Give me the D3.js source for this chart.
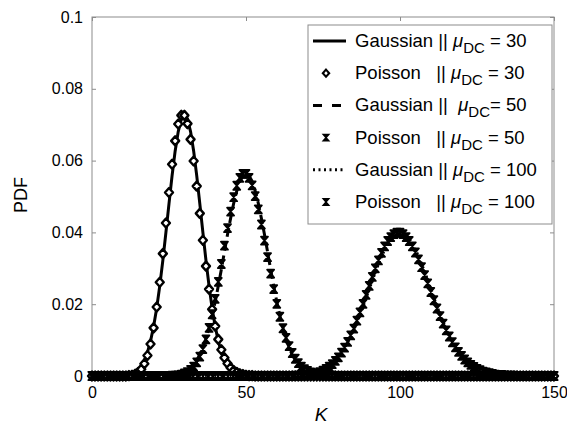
<!DOCTYPE html>
<meta charset="utf-8">
<style>
  body { margin: 0; background: #fff; }
  text { font-family: "Liberation Sans", Arial, sans-serif; }
</style>

<!-- Load d3.js -->
<script src="https://d3js.org/d3.v7.min.js"></script>

<div id="my_dataviz"></div>

<script>

// ---- data (one value per integer K, 0..150) ----
var kValues = d3.range(0, 151);

var xTicks = [0, 50, 100, 150];
var yTicks = [0, 0.02, 0.04, 0.06, 0.08, 0.1];
var yTickLabels = ["0", "0.02", "0.04", "0.06", "0.08", "0.1"];

var gauss30 = [
  0,0,0,0,0,0,0,0,0,0,
  0.0001,0.0002,0.0003,0.0006,0.0010,0.0017,0.0028,0.0044,0.0066,0.0097,
  0.0138,0.0189,0.0251,0.0322,0.0400,0.0480,0.0558,0.0627,0.0681,0.0716,
  0.0728,0.0716,0.0681,0.0627,0.0558,0.0480,0.0400,0.0322,0.0251,0.0189,
  0.0138,0.0097,0.0066,0.0044,0.0028,0.0017,0.0010,0.0006,0.0003,0.0002,
  0.0001,0,0,0,0,0,0,0,0,0,
  0,0,0,0,0,0,0,0,0,0,
  0,0,0,0,0,0,0,0,0,0,
  0,0,0,0,0,0,0,0,0,0,
  0,0,0,0,0,0,0,0,0,0,
  0,0,0,0,0,0,0,0,0,0,
  0,0,0,0,0,0,0,0,0,0,
  0,0,0,0,0,0,0,0,0,0,
  0,0,0,0,0,0,0,0,0,0,
  0,0,0,0,0,0,0,0,0,0,
  0
];

var poisson30 = [
  0,0,0,0,0,0,0,0,0,0,
  0,0,0.0001,0.0002,0.0005,0.0010,0.0019,0.0034,0.0057,0.0089,
  0.0134,0.0192,0.0261,0.0341,0.0426,0.0511,0.0590,0.0655,0.0702,0.0726,
  0.0726,0.0703,0.0659,0.0599,0.0529,0.0453,0.0378,0.0306,0.0242,0.0186,
  0.0139,0.0102,0.0073,0.0051,0.0035,0.0023,0.0015,0.0010,0.0006,0.0004,
  0.0002,0.0001,0.0001,0,0,0,0,0,0,0,
  0,0,0,0,0,0,0,0,0,0,
  0,0,0,0,0,0,0,0,0,0,
  0,0,0,0,0,0,0,0,0,0,
  0,0,0,0,0,0,0,0,0,0,
  0,0,0,0,0,0,0,0,0,0,
  0,0,0,0,0,0,0,0,0,0,
  0,0,0,0,0,0,0,0,0,0,
  0,0,0,0,0,0,0,0,0,0,
  0,0,0,0,0,0,0,0,0,0,
  0
];

var gauss50 = [
  0,0,0,0,0,0,0,0,0,0,
  0,0,0,0,0,0,0,0,0,0,
  0,0,0,0,0.0001,0.0001,0.0002,0.0003,0.0004,0.0007,
  0.0010,0.0015,0.0022,0.0031,0.0044,0.0059,0.0079,0.0104,0.0134,0.0168,
  0.0207,0.0251,0.0297,0.0346,0.0394,0.0439,0.0481,0.0515,0.0542,0.0558,
  0.0564,0.0558,0.0542,0.0515,0.0481,0.0439,0.0394,0.0346,0.0297,0.0251,
  0.0207,0.0168,0.0134,0.0104,0.0079,0.0059,0.0044,0.0031,0.0022,0.0015,
  0.0010,0.0007,0.0004,0.0003,0.0002,0.0001,0.0001,0,0,0,
  0,0,0,0,0,0,0,0,0,0,
  0,0,0,0,0,0,0,0,0,0,
  0,0,0,0,0,0,0,0,0,0,
  0,0,0,0,0,0,0,0,0,0,
  0,0,0,0,0,0,0,0,0,0,
  0,0,0,0,0,0,0,0,0,0,
  0,0,0,0,0,0,0,0,0,0,
  0
];

var poisson50 = [
  0,0,0,0,0,0,0,0,0,0,
  0,0,0,0,0,0,0,0,0,0,
  0,0,0,0,0,0,0.0001,0.0001,0.0002,0.0004,
  0.0007,0.0011,0.0017,0.0026,0.0038,0.0054,0.0075,0.0102,0.0134,0.0172,
  0.0215,0.0262,0.0312,0.0363,0.0412,0.0458,0.0498,0.0530,0.0552,0.0563,
  0.0563,0.0552,0.0531,0.0501,0.0464,0.0422,0.0377,0.0331,0.0285,0.0242,
  0.0201,0.0165,0.0133,0.0106,0.0083,0.0064,0.0048,0.0036,0.0026,0.0019,
  0.0014,0.0010,0.0007,0.0005,0.0003,0.0002,0.0001,0.0001,0.0001,0,
  0,0,0,0,0,0,0,0,0,0,
  0,0,0,0,0,0,0,0,0,0,
  0,0,0,0,0,0,0,0,0,0,
  0,0,0,0,0,0,0,0,0,0,
  0,0,0,0,0,0,0,0,0,0,
  0,0,0,0,0,0,0,0,0,0,
  0,0,0,0,0,0,0,0,0,0,
  0
];

var gauss100 = [
  0,0,0,0,0,0,0,0,0,0,
  0,0,0,0,0,0,0,0,0,0,
  0,0,0,0,0,0,0,0,0,0,
  0,0,0,0,0,0,0,0,0,0,
  0,0,0,0,0,0,0,0,0,0,
  0,0,0,0,0,0,0,0,0,0,
  0,0,0,0,0.0001,0.0001,0.0001,0.0002,0.0002,0.0003,
  0.0004,0.0006,0.0008,0.0010,0.0014,0.0018,0.0022,0.0028,0.0035,0.0044,
  0.0054,0.0066,0.0079,0.0094,0.0111,0.0130,0.0150,0.0171,0.0194,0.0218,
  0.0242,0.0266,0.0290,0.0312,0.0333,0.0352,0.0368,0.0381,0.0391,0.0397,
  0.0399,0.0397,0.0391,0.0381,0.0368,0.0352,0.0333,0.0312,0.0290,0.0266,
  0.0242,0.0218,0.0194,0.0171,0.0150,0.0130,0.0111,0.0094,0.0079,0.0066,
  0.0054,0.0044,0.0035,0.0028,0.0022,0.0018,0.0014,0.0010,0.0008,0.0006,
  0.0004,0.0003,0.0002,0.0002,0.0001,0.0001,0.0001,0,0,0,
  0,0,0,0,0,0,0,0,0,0,
  0
];

var poisson100 = [
  0,0,0,0,0,0,0,0,0,0,
  0,0,0,0,0,0,0,0,0,0,
  0,0,0,0,0,0,0,0,0,0,
  0,0,0,0,0,0,0,0,0,0,
  0,0,0,0,0,0,0,0,0,0,
  0,0,0,0,0,0,0,0,0,0,
  0,0,0,0,0,0,0.0001,0.0001,0.0002,0.0002,
  0.0003,0.0004,0.0006,0.0008,0.0011,0.0015,0.0020,0.0026,0.0033,0.0042,
  0.0052,0.0065,0.0079,0.0095,0.0113,0.0132,0.0154,0.0177,0.0201,0.0226,
  0.0251,0.0276,0.0300,0.0322,0.0343,0.0361,0.0376,0.0387,0.0395,0.0399,
  0.0399,0.0395,0.0387,0.0376,0.0361,0.0344,0.0325,0.0303,0.0281,0.0258,
  0.0234,0.0211,0.0188,0.0167,0.0146,0.0127,0.0110,0.0094,0.0080,0.0067,
  0.0056,0.0046,0.0038,0.0031,0.0025,0.0020,0.0016,0.0012,0.0010,0.0008,
  0.0006,0.0004,0.0003,0.0003,0.0002,0.0001,0.0001,0.0001,0,0,
  0,0,0,0,0,0,0,0,0,0,
  0
];

// legend texts
var legendNames = ["Gaussian || ", "Poisson   || ", "Gaussian ||  ", "Poisson   || ", "Gaussian || ", "Poisson   || "];
var legendValues = [" = 30", " = 30", "= 50", " = 50", " = 100", " = 100"];

// ---- layout ----
var margin = {top: 17, right: 13, bottom: 49, left: 92},
    width = 567 - margin.left - margin.right,
    height = 425 - margin.top - margin.bottom;

var svg = d3.select("#my_dataviz")
  .append("svg")
    .attr("width", width + margin.left + margin.right)
    .attr("height", height + margin.top + margin.bottom)
  .append("g")
    .attr("transform", "translate(" + margin.left + "," + margin.top + ")");

var x = d3.scaleLinear().domain([0, 150]).range([0, width]);
var y = d3.scaleLinear().domain([0, 0.1]).range([height, 0]);

var frameColor = "#8c8c8c";

// box
svg.append("rect")
  .attr("x", 0).attr("y", 0)
  .attr("width", width).attr("height", height)
  .attr("fill", "none")
  .attr("stroke", frameColor)
  .attr("stroke-width", 1);

function styleAxis(g) {
  g.select(".domain").remove();
  g.selectAll(".tick line").attr("stroke", frameColor);
  g.selectAll(".tick text").attr("fill", "#000");
}

// X axis
svg.append("g")
  .attr("transform", "translate(0," + height + ")")
  .call(d3.axisBottom(x).tickValues(xTicks).tickSize(-4).tickPadding(11))
  .call(styleAxis)
  .style("font", "16px 'Liberation Sans'");

svg.append("g")
  .call(d3.axisTop(x).tickValues(xTicks).tickSize(-4).tickFormat(""))
  .call(styleAxis);

// Y axis
svg.append("g")
  .call(d3.axisLeft(y).tickValues(yTicks).tickSize(-4).tickPadding(9)
    .tickFormat(function(d, i) { return yTickLabels[i]; }))
  .call(styleAxis)
  .style("font", "16px 'Liberation Sans'");

svg.append("g")
  .attr("transform", "translate(" + width + ",0)")
  .call(d3.axisRight(y).tickValues(yTicks).tickSize(-4).tickFormat(""))
  .call(styleAxis);

// axis labels
svg.append("text")
  .attr("transform", "rotate(-90)")
  .attr("x", -178)
  .attr("y", -65)
  .style("text-anchor", "middle")
  .style("font-size", "18px")
  .text("PDF");

svg.append("text")
  .attr("x", 229)
  .attr("y", 404)
  .style("text-anchor", "middle")
  .style("font-size", "19px")
  .style("font-style", "italic")
  .text("K");

// markers
var diamondPath = "M0,-4.5L4,0L0,4.5L-4,0Z";
var bowtiePath = "M-3.5,-4H3.5L-3.5,4H3.5Z";

function addLine(values, dash) {
  svg.append("path")
    .datum(kValues)
    .attr("fill", "none")
    .attr("stroke", "#000")
    .attr("stroke-width", 3)
    .style("stroke-dasharray", dash)
    .attr("d", d3.line()
      .x(function(k) { return x(k); })
      .y(function(k, i) { return y(values[i]); }));
}

function addMarkers(values, shape) {
  svg.append("g")
    .selectAll("path")
    .data(kValues)
    .enter()
    .append("path")
      .attr("d", shape)
      .attr("fill", shape === diamondPath ? "#fff" : "#000")
      .attr("stroke", "#000")
      .attr("stroke-width", shape === diamondPath ? 2.4 : 1.8)
      .attr("stroke-linejoin", "round")
      .attr("transform", function(k, i) { return "translate(" + x(k) + "," + y(values[i]) + ")"; });
}

addLine(gauss30, null);
addMarkers(poisson30, diamondPath);
addLine(gauss50, "9,5");
addMarkers(poisson50, bowtiePath);
addLine(gauss100, "2,3");
addMarkers(poisson100, bowtiePath);

// legend
var legend = svg.append("g").attr("transform", "translate(216,8)");
legend.append("rect")
  .attr("width", 244).attr("height", 199)
  .attr("fill", "#fff")
  .attr("stroke", frameColor);

var lineDashes = [null, "9,10", "2,3.5"];
legendNames.forEach(function(name, i) {
  var yb = 22 + i * 32.2;
  var ym = yb - 6;
  if (i % 2 === 0) {
    legend.append("line")
      .attr("x1", 5).attr("x2", 38)
      .attr("y1", ym).attr("y2", ym)
      .attr("stroke", "#000").attr("stroke-width", 3)
      .style("stroke-dasharray", lineDashes[i / 2]);
  } else {
    legend.append("path")
      .attr("d", i === 1 ? diamondPath : bowtiePath)
      .attr("transform", "translate(18," + ym + ") scale(0.8)")
      .attr("fill", i === 1 ? "#fff" : "#000")
      .attr("stroke", "#000")
      .attr("stroke-width", i === 1 ? 2.6 : 1.8);
  }
  var t = legend.append("text")
    .attr("x", 47).attr("y", yb)
    .style("font-size", "18.5px")
    .style("white-space", "pre");
  t.append("tspan").text(name);
  t.append("tspan").style("font-style", "italic").text("\u03bc");
  t.append("tspan").attr("dy", 6).style("font-size", "15px").text("DC");
  t.append("tspan").attr("dy", -6).text(legendValues[i]);
});

</script>
